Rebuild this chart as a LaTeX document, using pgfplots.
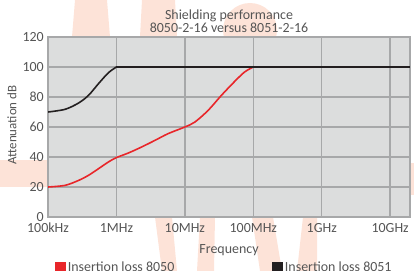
\documentclass[border=0pt]{standalone}
\usepackage{fontspec}
\setmainfont{Carlito}
\usepackage{pgfplots}
\pgfplotsset{compat=1.18}
\definecolor{txt}{HTML}{555555}
\definecolor{gridc}{HTML}{A7A8A9}
\definecolor{bgc}{HTML}{DCDDDD}
\definecolor{redc}{HTML}{E8262A}
\definecolor{blk}{HTML}{231F20}
\definecolor{wm}{HTML}{FDE3D8}
\begin{document}
\begin{tikzpicture}
\useasboundingbox (0bp,0bp) rectangle (414bp,271bp);
% faint watermark behind the chart
\begin{scope}[x=1bp,y=1bp]
\fill[wm] (75,271) -- (107,271) -- (110,234) -- (72,234) -- cycle;
\fill[wm] (142,271) -- (175,271) -- (177,234) -- (140,234) -- cycle;
\fill[wm] (250,241) circle (27);
\fill[wm] (0,111) rectangle (48,84);
\fill[wm] (410,108) rectangle (414,76);
\fill[wm] (155,54) -- (172,54) -- (177,0) -- (162,0) -- cycle;
\fill[wm] (200,54) -- (215,54) -- (214,0) -- (197,0) -- cycle;
\fill[wm] (252,54) -- (273,54) -- (282,0) -- (260,0) -- cycle;
\fill[wm] (303,54) -- (317,54) -- (317,0) -- (297,0) -- cycle;
\end{scope}
\begin{axis}[
  at={(48bp,54bp)}, anchor=south west,
  scale only axis, width=362bp, height=180bp,
  xmode=log, log basis x=10,
  xmin=1e5, xmax=1.95e10, ymin=0, ymax=120,
  xtick={1e5,1e6,1e7,1e8,1e9,1e10},
  xticklabels={100kHz,1MHz,10MHz,100MHz,1GHz,10GHz},
  ytick={0,20,40,60,80,100,120},
  /pgf/number format/assume math mode=true,
  grid=major,
  major grid style={gridc, line width=1.5bp},
  axis line style={gridc, line width=1.5bp},
  axis background/.style={fill=bgc},
  tick style={draw=none},
  ticklabel style={font=\fontsize{14}{14}\selectfont, text=txt},
  xticklabel style={anchor=base, yshift=-15bp},
  yticklabel style={anchor=east, inner sep=0pt, xshift=-4bp},
  xlabel={Frequency},
  xlabel style={at={(axis description cs:0.5,-0.2)}, anchor=base, font=\fontsize{14}{14}\selectfont, text=txt},
  ylabel={Attenuation dB},
  ylabel style={at={(axis description cs:-0.0994,0.511)}, anchor=center, font=\fontsize{13}{13}\selectfont, text=txt},
  title={Shielding performance\\8050-2-16 versus 8051-2-16},
  title style={at={(axis description cs:0.5,1.12)}, anchor=north, inner sep=0pt, align=center, font=\fontsize{14}{10.5}\selectfont, text=txt},
  legend columns=2,
  legend image code/.code={\fill[#1] (0bp,-5bp) rectangle (9bp,5bp);},
  legend style={at={(axis description cs:0.0193,-0.239)}, anchor=north west, draw=none, fill=none, inner sep=0pt,
    font=\fontsize{14}{14}\selectfont, text=txt,
    /tikz/every even column/.append style={column sep=96bp}},
]
\addplot[redc, line width=1.6bp, smooth, tension=0.5] coordinates {
  (1e5,20) (1.78e5,21.1) (2.8e5,24.4) (3.91e5,27.8) (5.47e5,32.2) (7.64e5,36.7)
  (1e6,39.6) (1.5e6,42.7) (2.34e6,46.7) (3.66e6,51.1) (5.71e6,55.6) (1e7,60)
  (1.4e7,63.3) (2.19e7,71.1) (3.42e7,81.1) (5.35e7,90.4) (7.48e7,96.7) (1e8,100)
};
\addlegendentry{Insertion loss 8050}
\addplot[blk, line width=1.6bp, smooth, tension=0.5, forget plot] coordinates {
  (1e5,70) (1.78e5,71.8) (2.8e5,76) (3.91e5,81.1) (5.47e5,88.9) (7.64e5,96.2) (1e6,100)
};
\addplot[blk, line width=1.6bp] coordinates {(1e6,100) (1.95e10,100)};
\addlegendentry{Insertion loss 8051}
\end{axis}
\end{tikzpicture}
\end{document}
